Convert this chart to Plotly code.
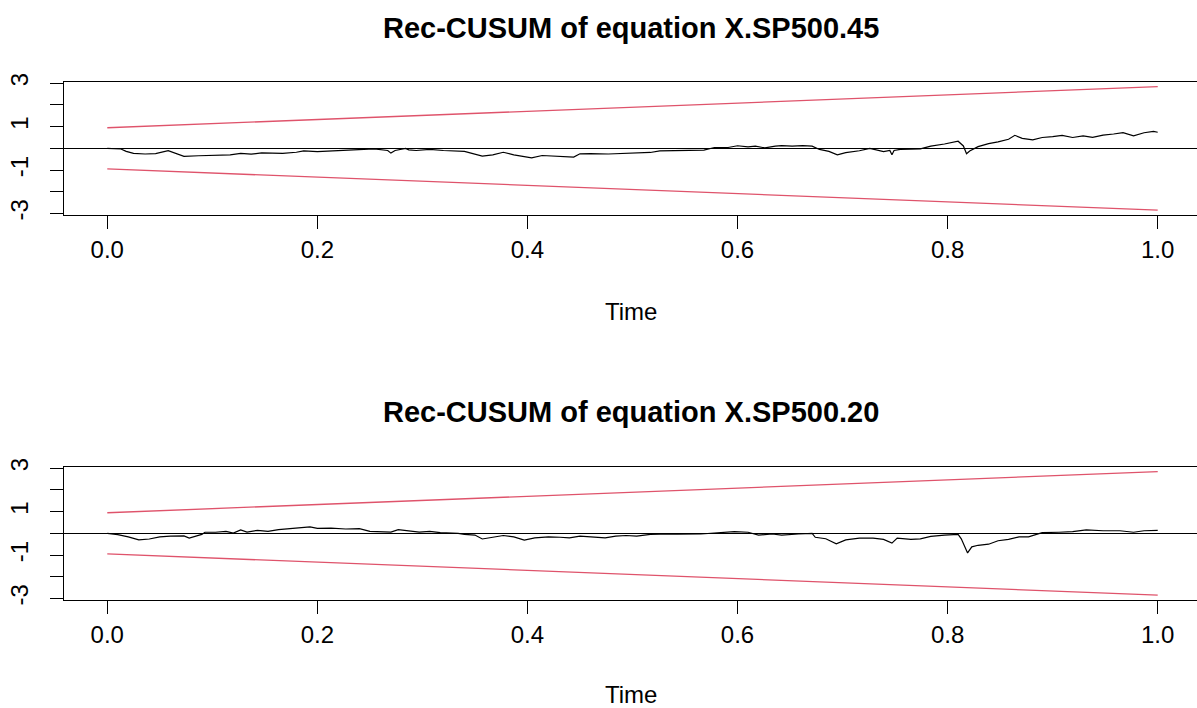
import plotly.graph_objects as go

# ---------------- data ----------------
titles = ["Rec-CUSUM of equation X.SP500.45", "Rec-CUSUM of equation X.SP500.20"]
x_ticks = [0.0, 0.2, 0.4, 0.6, 0.8, 1.0]
x_tick_labels = ["0.0", "0.2", "0.4", "0.6", "0.8", "1.0"]
y_ticks = [-3, -2, -1, 0, 1, 2, 3]
y_tick_labels = ["-3", "", "-1", "", "1", "", "3"]

bound_t = [0.0, 1.0]
bound_upper = [0.948, 2.844]
bound_lower = [-0.948, -2.844]

t45 = [0.000, 0.008, 0.013, 0.018, 0.025, 0.036, 0.046, 0.058, 0.065, 0.073,
       0.087, 0.103, 0.117, 0.127, 0.137, 0.147, 0.167, 0.180, 0.187, 0.200,
       0.220, 0.227, 0.240, 0.254, 0.267, 0.270, 0.274, 0.284, 0.287, 0.294,
       0.307, 0.320, 0.340, 0.347, 0.357, 0.367, 0.377, 0.387, 0.394, 0.404,
       0.414, 0.427, 0.434, 0.444, 0.450, 0.460, 0.477, 0.494, 0.507, 0.517,
       0.526, 0.539, 0.552, 0.568, 0.578, 0.591, 0.600, 0.610, 0.617, 0.626,
       0.636, 0.642, 0.652, 0.662, 0.671, 0.678, 0.687, 0.695, 0.703, 0.716,
       0.726, 0.732, 0.739, 0.745, 0.747, 0.749, 0.755, 0.765, 0.774, 0.784,
       0.790, 0.797, 0.810, 0.815, 0.818, 0.821, 0.829, 0.839, 0.848, 0.858,
       0.864, 0.871, 0.881, 0.890, 0.900, 0.909, 0.919, 0.929, 0.938, 0.948,
       0.958, 0.967, 0.977, 0.987, 0.996, 1.000]
v45 = [0.00, -0.02, -0.03, -0.14, -0.23, -0.26, -0.24, -0.11, -0.23, -0.37,
       -0.34, -0.32, -0.30, -0.23, -0.27, -0.21, -0.23, -0.18, -0.12, -0.15,
       -0.11, -0.08, -0.05, -0.02, -0.10, -0.22, -0.10, 0.00, -0.07, -0.10,
       -0.05, -0.10, -0.14, -0.22, -0.36, -0.30, -0.18, -0.30, -0.36, -0.44,
       -0.33, -0.37, -0.38, -0.40, -0.25, -0.24, -0.26, -0.23, -0.18, -0.19,
       -0.12, -0.11, -0.12, -0.08, 0.04, 0.04, 0.12, 0.07, 0.10, 0.02,
       0.10, 0.13, 0.10, 0.13, 0.10, -0.05, -0.14, -0.30, -0.20, -0.11,
       0.00, -0.08, -0.15, -0.10, -0.30, -0.10, -0.05, -0.04, -0.02, 0.10,
       0.14, 0.20, 0.33, 0.11, -0.25, -0.12, 0.08, 0.22, 0.30, 0.42,
       0.60, 0.46, 0.39, 0.50, 0.54, 0.60, 0.50, 0.57, 0.51, 0.61,
       0.66, 0.72, 0.58, 0.72, 0.78, 0.74]

t20 = [0.000, 0.010, 0.020, 0.030, 0.040, 0.050, 0.060, 0.073, 0.078, 0.090,
       0.093, 0.103, 0.113, 0.120, 0.127, 0.133, 0.143, 0.153, 0.163, 0.173,
       0.183, 0.193, 0.200, 0.213, 0.227, 0.240, 0.250, 0.260, 0.270, 0.277,
       0.287, 0.297, 0.307, 0.317, 0.334, 0.340, 0.350, 0.357, 0.367, 0.377,
       0.387, 0.397, 0.407, 0.420, 0.431, 0.440, 0.450, 0.464, 0.474, 0.484,
       0.494, 0.504, 0.517, 0.536, 0.543, 0.565, 0.584, 0.597, 0.610, 0.620,
       0.633, 0.642, 0.658, 0.671, 0.674, 0.684, 0.694, 0.703, 0.716, 0.729,
       0.739, 0.747, 0.752, 0.765, 0.774, 0.784, 0.797, 0.810, 0.813, 0.819,
       0.823, 0.829, 0.839, 0.848, 0.858, 0.868, 0.877, 0.884, 0.890, 0.906,
       0.919, 0.932, 0.948, 0.964, 0.977, 0.987, 1.000]
v20 = [0.00, -0.06, -0.16, -0.30, -0.26, -0.16, -0.13, -0.12, -0.22, -0.05,
       0.05, 0.05, 0.09, 0.01, 0.16, 0.06, 0.14, 0.09, 0.17, 0.22,
       0.27, 0.30, 0.23, 0.24, 0.20, 0.22, 0.09, 0.09, 0.06, 0.17,
       0.13, 0.06, 0.09, 0.03, 0.00, -0.05, -0.08, -0.26, -0.18, -0.10,
       -0.16, -0.31, -0.21, -0.16, -0.18, -0.21, -0.13, -0.18, -0.21, -0.13,
       -0.10, -0.13, -0.05, -0.03, -0.04, -0.03, 0.03, 0.08, 0.05, -0.08,
       -0.03, -0.08, -0.03, 0.00, -0.18, -0.25, -0.48, -0.30, -0.22, -0.22,
       -0.28, -0.45, -0.22, -0.28, -0.25, -0.14, -0.08, -0.05, -0.25, -0.90,
       -0.62, -0.55, -0.50, -0.34, -0.28, -0.16, -0.16, -0.05, 0.03, 0.05,
       0.08, 0.16, 0.12, 0.12, 0.05, 0.12, 0.14]

# ---------------- styling ----------------
RED = "#DF536B"
FONT = "Liberation Sans, Arial, sans-serif"
H = 708.0

fig = go.Figure()

panels = [
    dict(t=t45, v=v45, xa="x", ya="y", top=81.7, bottom=215.0, title_y=28, time_y=312),
    dict(t=t20, v=v20, xa="x2", ya="y2", top=466.7, bottom=600.0, title_y=412, time_y=694),
]

for i, p in enumerate(panels):
    fig.add_trace(go.Scatter(x=bound_t, y=bound_upper, mode="lines",
                             line=dict(color=RED, width=1.3), xaxis=p["xa"], yaxis=p["ya"],
                             hoverinfo="skip"))
    fig.add_trace(go.Scatter(x=bound_t, y=bound_lower, mode="lines",
                             line=dict(color=RED, width=1.3), xaxis=p["xa"], yaxis=p["ya"],
                             hoverinfo="skip"))
    fig.add_trace(go.Scatter(x=p["t"], y=p["v"], mode="lines",
                             line=dict(color="black", width=1.2), xaxis=p["xa"], yaxis=p["ya"]))

    suffix = "" if i == 0 else "2"
    dom = [1 - p["bottom"] / H, 1 - p["top"] / H]
    fig.layout["xaxis" + suffix] = dict(
        domain=[0, 1], range=[-0.0412, 1.0374], anchor="y" + suffix,
        showline=True, mirror=True, linecolor="black", linewidth=1,
        ticks="outside", ticklen=13, tickwidth=1, tickcolor="black",
        tickvals=x_ticks, ticktext=x_tick_labels, showgrid=False, zeroline=False,
        tickfont=dict(family=FONT, size=24, color="black"), fixedrange=True,
        automargin=False,
    )
    fig.layout["yaxis" + suffix] = dict(
        domain=dom, range=[-3.07, 3.07], anchor="x" + suffix,
        showline=True, mirror=False, linecolor="black", linewidth=1,
        ticks="outside", ticklen=13, tickwidth=1, tickcolor="black",
        tickvals=y_ticks, ticktext=y_tick_labels, tickangle=-90,
        ticklabelstandoff=12,
        showgrid=False, zeroline=True, zerolinecolor="black", zerolinewidth=1,
        tickfont=dict(family=FONT, size=24, color="black"), fixedrange=True,
        automargin=False,
    )
    fig.add_annotation(text="<b>" + titles[i] + "</b>", xref="paper", yref="paper",
                       x=0.5, y=1 - p["title_y"] / H, xanchor="center", yanchor="middle",
                       showarrow=False, font=dict(family=FONT, size=29, color="black"))
    fig.add_annotation(text="Time", xref="paper", yref="paper",
                       x=0.5, y=1 - p["time_y"] / H, xanchor="center", yanchor="middle",
                       showarrow=False, font=dict(family=FONT, size=24, color="black"))

fig.update_layout(
    width=1197, height=708,
    margin=dict(l=64, r=0, t=0, b=0, pad=0, autoexpand=False),
    paper_bgcolor="white", plot_bgcolor="white", showlegend=False,
)

fig.write_html("out.html")
